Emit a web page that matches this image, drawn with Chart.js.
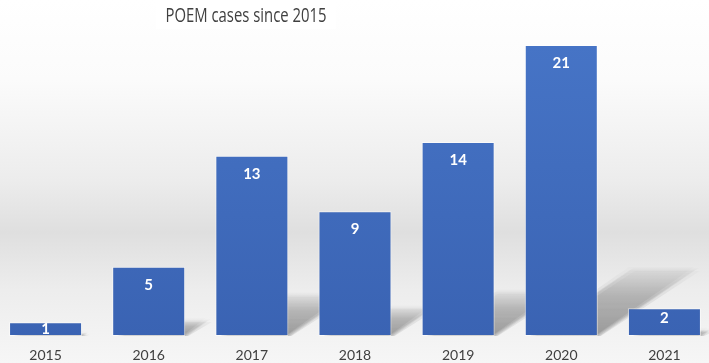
<!DOCTYPE html>
<html>
<head>
<meta charset="utf-8">
<script src="https://cdn.jsdelivr.net/npm/chart.js@4.4.0/dist/chart.umd.min.js"></script>
<style>
  html, body { margin: 0; padding: 0; width: 709px; height: 363px; overflow: hidden; }
  body { background: linear-gradient(to bottom, #ffffff 0%, #fbfbfb 22%, #ececec 50%, #dfdfdf 64%, #ededed 80%, #f6f6f6 100%); position: relative; }
  #wrap { position: absolute; left: -6px; top: 0; width: 722px; height: 363px; }
</style>
</head>
<body>
<div id="wrap"><canvas id="c"></canvas></div>
<script>
const chartTitle = "POEM cases since 2015";
const categories = ["2015", "2016", "2017", "2018", "2019", "2020", "2021"];
const cases = [1, 5, 13, 9, 14, 21, 2];

const shadowPlugin = {
  id: 'shadows',
  beforeDatasetsDraw(chart) {
    const ctx = chart.ctx;
    const meta = chart.getDatasetMeta(0);
    meta.data.forEach(bar => {
      const left = bar.x - bar.width / 2, right = bar.x + bar.width / 2;
      const bottom = bar.base, h = bar.base - bar.y;
      const dx = h * 0.34, dy = h * 0.23;
      ctx.save();
      const offs = [[0,0],[-2,1],[2,-1],[-3,-2],[3,2]];
      offs.forEach(([ox, oy]) => {
        const g = ctx.createLinearGradient(0, bottom, 0, bottom - dy);
        g.addColorStop(0, 'rgba(0,0,0,0.085)');
        g.addColorStop(0.6, 'rgba(0,0,0,0.055)');
        g.addColorStop(1, 'rgba(0,0,0,0.01)');
        ctx.fillStyle = g;
        ctx.beginPath();
        ctx.moveTo(left + 8 + ox, bottom);
        ctx.lineTo(right + ox, bottom);
        ctx.lineTo(right + dx + ox, bottom - dy + oy);
        ctx.lineTo(left + dx + 8 + ox, bottom - dy + oy);
        ctx.closePath();
        ctx.fill();
      });
      ctx.restore();
    });
  }
};

const labelPlugin = {
  id: 'barLabels',
  afterDatasetsDraw(chart) {
    const ctx = chart.ctx;
    const meta = chart.getDatasetMeta(0);
    ctx.save();
    ctx.font = 'bold 15px Lato, "Open Sans", sans-serif';
    ctx.fillStyle = '#ffffff';
    ctx.textAlign = 'center';
    ctx.textBaseline = 'middle';
    meta.data.forEach((bar, i) => {
      const h = bar.base - bar.y;
      const y = bar.y + Math.min(18, Math.max(h * 0.37, 7));
      ctx.fillText(String(cases[i]), bar.x, y);
    });
    ctx.restore();
  }
};

const titlePlugin = {
  id: 'customTitle',
  beforeDraw(chart) {
    const ctx = chart.ctx;
    ctx.save();
    ctx.fillStyle = 'rgba(255,255,255,0.9)';
    ctx.fillRect(162, 0, 180, 29);
    ctx.font = '20px "Open Sans", sans-serif';
    ctx.fillStyle = '#404040';
    ctx.textAlign = 'center';
    ctx.textBaseline = 'middle';
    const w = ctx.measureText(chartTitle).width;
    const sx = 161 / w;
    ctx.translate(252, 16);
    ctx.scale(sx, 1);
    ctx.fillText(chartTitle, 0, 0);
    ctx.restore();
  }
};

new Chart(document.getElementById('c'), {
  type: 'bar',
  data: {
    labels: categories,
    datasets: [{
      data: cases,
      backgroundColor: (c) => {
        const a = c.chart.chartArea;
        if (!a) return '#4472C4';
        const g = c.chart.ctx.createLinearGradient(0, a.top, 0, a.bottom);
        g.addColorStop(0, '#4674c6');
        g.addColorStop(1, '#3a63b3');
        return g;
      },
      borderColor: 'rgba(255,255,255,0.55)',
      borderWidth: 1,
      borderSkipped: false,
      categoryPercentage: 1.0,
      barPercentage: 0.708
    }]
  },
  options: {
    responsive: true,
    maintainAspectRatio: false,
    animation: false,
    layout: { padding: { top: 45, bottom: 0, left: 0, right: 0 } },
    plugins: {
      legend: { display: false },
      title: { display: false },
      tooltip: { enabled: false }
    },
    scales: {
      x: {
        grid: { display: false, drawTicks: false },
        border: { display: false },
        ticks: { color: '#404040', font: { family: 'Lato, "Open Sans", sans-serif', size: 14 }, padding: 11 },
        afterFit(scale) { scale.height = 27; }
      },
      y: {
        display: false,
        min: 0,
        max: 21
      }
    }
  },
  plugins: [titlePlugin, shadowPlugin, labelPlugin]
});
</script>
</body>
</html>
